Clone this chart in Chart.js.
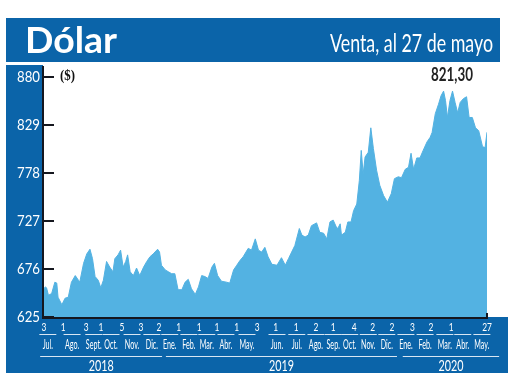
<!DOCTYPE html>
<html>
<head>
<meta charset="utf-8">
<script src="https://cdn.jsdelivr.net/npm/chart.js@4"></script>
<style>
  html, body { margin: 0; padding: 0; background: #fff; }
  canvas { display: block; }
</style>
</head>
<body>
<canvas id="myChart" width="520" height="390"></canvas>
<script>
// position of each reading along the time axis (sessions since 3 Jul 2018)
const sesion = [0,2,4,7,12,17,20,22,28,33,38,43,49,54,56,62,67,72,76,80,85,89,93,98,103,108,111,116,120,124,
  128,131,135,140,145,150,156,161,166,171,178,181,184,190,195,200,205,210,216,221,226,231,237,242,247,252,257,263,267,272,
  278,286,291,297,302,307,312,320,325,331,336,341,346,351,357,365,372,378,383,388,393,400,404,409,414,419,427,432,438,443,
  448,453,459,461,464,466,472,476,481,485,490,494,497,500,503,508,512,516,521,526,532,538,544,549,555,560,566,571,575,579,
  584,589,594,600,605,608,613,618,622,626,629,632,636,640,644,648,652,657,662,666,671,676,681,687,691,694];
// dollar, selling price ($)
const venta = [655,657,656,648,650,662,661,646,638,645,646,662,669,664,662,682,692,697,687,668,664,656,664,684,678,673,687,691,696,678,
  684,691,673,669,677,669,678,684,689,692,697,694,680,675,673,671,671,654,654,662,665,655,649,657,669,668,666,678,682,669,
  663,662,661,675,680,685,689,698,696,708,696,694,699,689,681,680,688,680,687,694,701,719,712,710,712,722,725,715,714,708,
  726,728,719,720,724,712,715,726,726,738,745,770,802,777,795,800,826,804,781,765,754,747,756,772,774,773,782,784,799,782,
  794,794,802,811,816,821,841,851,860,865,855,837,855,865,853,842,853,857,859,837,837,826,823,806,805,821.3];

const yTicks = [625, 676, 727, 778, 829, 880];
const ultimo = '821,30';

// first day of each month on the axis
const diaInicio = ['3','1','3','1','5','3','2','1','1','1','1','3','1','1','2','1','4','2','2','3','2','1','27'];
const diaPos = [0,30,66,89,122,152,180,211,243,271,302,334,363,395,426,453,486,515,545,577,606,638,694];
const meses = ['Jul.','Ago.','Sept.','Oct.','Nov.','Dic.','Ene.','Feb.','Mar.','Abr.','May.',
  'Jun.','Jul.','Ago.','Sep.','Oct.','Nov.','Dic.','Ene.','Feb.','Mar.','Abr.','May.'];
const mesPos = [6,44,78,105,138,169,197,227,255,285,318,365,396,426,453,479,508,537,567,597,628,656,686];
const anios = ['2018', '2019', '2020'];
const anioDesde = [-6, 191, 562];
const anioHasta = [185, 553, 713];

const BLUE = '#0b64a9';
const AREA = '#53b2e2';

function txt(c, s, x, y, font, color, align, k, base) {
  c.save();
  c.font = font;
  c.fillStyle = color;
  c.textAlign = align;
  c.textBaseline = base || 'middle';
  c.translate(x, y);
  c.scale(k, 1);
  c.fillText(s, 0, 0);
  c.restore();
}

function fit(c, s, x, y, font, color, align, w, base) {
  c.save();
  c.font = font;
  const k = w / c.measureText(s).width;
  c.restore();
  txt(c, s, x, y, font, color, align, k, base);
}

const frame = {
  id: 'frame',
  beforeDraw(chart) {
    const c = chart.ctx;
    c.save();
    c.fillStyle = '#fff';
    c.fillRect(0, 0, 520, 390);
    c.fillStyle = BLUE;
    c.fillRect(6, 18, 494, 44);   // header
    c.fillRect(6, 65, 37, 252);   // y label column
    c.fillRect(6, 317, 502, 56);  // month band
    c.restore();
    fit(c, 'Dólar', 25, 53, 'bold 36px Lato', '#fff', 'left', 92, 'alphabetic');
    fit(c, 'Venta, al 27 de mayo', 493, 52, '25px Lato', '#fff', 'right', 163, 'alphabetic');
  },
  afterDatasetsDraw(chart) {
    const c = chart.ctx;
    const xs = chart.scales.x, ys = chart.scales.y;
    const a = chart.chartArea;
    c.save();
    c.strokeStyle = '#15171f';
    c.lineWidth = 2;
    c.beginPath();
    c.moveTo(43, 66); c.lineTo(43, a.bottom + 1);
    c.lineTo(a.right, a.bottom + 1);
    c.moveTo(a.right, a.bottom - 4); c.lineTo(a.right, a.bottom + 2);
    c.stroke();
    yTicks.forEach(v => {
      const py = ys.getPixelForValue(v);
      c.beginPath();
      c.moveTo(44, py); c.lineTo(54, py);
      c.stroke();
      fit(c, String(v), 40, py, '16px Lato', '#fff', 'right', 23);
    });
    c.restore();
    fit(c, '($)', 60, 76, 'bold 15px "Liberation Serif"', '#111', 'left', 15);
    fit(c, ultimo, 452, 75, 'bold 18px Lato', '#222', 'center', 42);

    // bottom band: day numbers, month names, years
    c.save();
    c.strokeStyle = '#d8e6f3';
    c.lineWidth = 1;
    mesPos.forEach(p => {
      const px = xs.getPixelForValue(p);
      c.beginPath();
      c.moveTo(px - 8.5, 334.5); c.lineTo(px + 8.5, 334.5);
      c.stroke();
    });
    anios.forEach((s, i) => {
      const x0 = xs.getPixelForValue(anioDesde[i]);
      const x1 = xs.getPixelForValue(anioHasta[i]);
      c.beginPath();
      c.moveTo(x0, 356.5); c.lineTo(x1, 356.5);
      c.stroke();
      fit(c, s, (x0 + x1) / 2, 366, '15px Lato', '#fff', 'center', 25);
    });
    c.restore();
    diaInicio.forEach((s, i) => {
      txt(c, s, xs.getPixelForValue(diaPos[i]), 327, '12px Lato', '#fff', 'center', 0.7);
    });
    meses.forEach((s, i) => {
      txt(c, s, xs.getPixelForValue(mesPos[i]), 345, '13px Lato', '#fff', 'center', 0.55);
    });
  }
};

const ctx = document.getElementById('myChart').getContext('2d');
const chart = new Chart(ctx, {
  type: 'line',
  data: {
    datasets: [{
      label: 'Dólar venta',
      data: sesion.map((s, i) => ({ x: s, y: venta[i] })),
      backgroundColor: AREA,
      borderColor: AREA,
      borderWidth: 1,
      pointRadius: 0,
      tension: 0,
      fill: 'start'
    }]
  },
  options: {
    responsive: false,
    devicePixelRatio: 1,
    animation: false,
    layout: { padding: { left: 44, right: 33, top: 77, bottom: 73 } },
    plugins: { legend: { display: false }, tooltip: { enabled: false } },
    scales: {
      x: { type: 'linear', min: 0, max: 694, display: false },
      y: { min: 625, max: 880, display: false }
    }
  },
  plugins: [frame]
});
</script>
</body>
</html>
